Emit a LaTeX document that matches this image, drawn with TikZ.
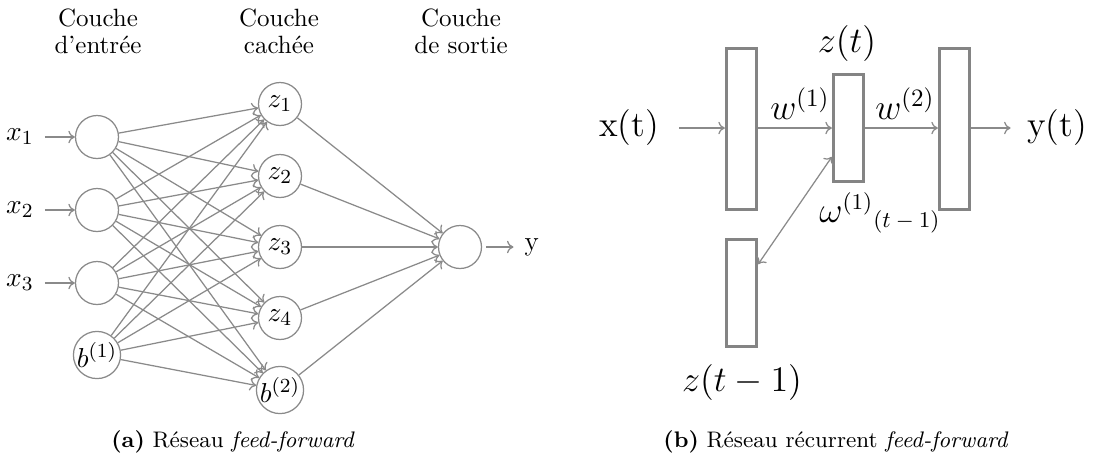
\documentclass[tikz,border=0pt]{standalone}
\usetikzlibrary{arrows.meta}
\definecolor{linegray}{HTML}{8A8A8A}
\definecolor{boxgray}{HTML}{848484}
\begin{document}
\begin{tikzpicture}[x=0.4pt,y=-0.4pt,
  neuron/.style={circle, draw=linegray, line width=0.5pt, minimum size=17.2pt, inner sep=0pt, font=\fontsize{11}{13}\selectfont},
  conn/.style={draw=linegray, line width=0.5pt, -{To[length=2.6pt,width=5pt]}},
  twoway/.style={draw=linegray, line width=0.5pt, {To[length=2.6pt,width=5pt]}-{To[length=2.6pt,width=5pt]}},
  layerbig/.style={draw=boxgray, line width=1.3pt, inner sep=0pt, minimum width=12pt, minimum height=64.4pt},
  layersmall/.style={draw=boxgray, line width=1.3pt, inner sep=0pt, minimum width=12pt, minimum height=42.8pt},
  plain/.style={inner sep=0pt},
  inlabel/.style={inner sep=0pt, font=\fontsize{11}{13}\selectfont},
  title/.style={inner sep=0pt, anchor=base},
  caption/.style={inner sep=0pt, font=\small}]
\useasboundingbox (0,0) rectangle (1119,463);

% ---------- (a) feed-forward ----------
\node[title] (t1a) at (98,26) {Couche};
\node[title] (t1b) at (98,53) {d'entrée};
\node[title] (t2a) at (279,26) {Couche};
\node[title] (t2b) at (279,53) {cachée};
\node[title] (t3a) at (461,26) {Couche};
\node[title] (t3b) at (461,53) {de sortie};

\node[neuron] (i1) at (97,137) {};
\node[neuron] (i2) at (97,210) {};
\node[neuron] (i3) at (97,283) {};
\node[neuron] (ib) at (97,355) {$b^{(1)}$};

\node[neuron] (h1) at (280,104) {$z_1$};
\node[neuron] (h2) at (280,176) {$z_2$};
\node[neuron] (h3) at (280,247) {$z_3$};
\node[neuron] (h4) at (280,318) {$z_4$};
\node[neuron] (hb) at (280,390) {$b^{(2)}$};

\node[neuron] (o) at (460,247) {};

\node[inlabel] (x1) at (20,137) {$x_1$};
\node[inlabel] (x2) at (20,210) {$x_2$};
\node[inlabel] (x3) at (20,283) {$x_3$};
\node[inlabel,anchor=west] (y) at (524,247) {y};

\draw[conn, shorten <=4.2pt] (x1) -- (i1);
\draw[conn, shorten <=4.2pt] (x2) -- (i2);
\draw[conn, shorten <=4.2pt] (x3) -- (i3);

\foreach \s in {i1,i2,i3,ib}
  \foreach \t in {h1,h2,h3,h4,hb}
    \draw[conn] (\s) -- (\t);

\foreach \s in {h1,h2,h3,h4,hb}
  \draw[conn] (\s) -- (o);

\draw[conn, shorten <=1.6pt, shorten >=4.2pt] (o) -- (y);

\node[caption] (capa) at (233,442) {\textbf{(a)} Réseau \textit{feed-forward}};

% ---------- (b) recurrent ----------
\node[layerbig] (r1) at (741.5,129) {};
\node[layersmall] (r2) at (848.5,128) {};
\node[layerbig] (r3) at (954.5,129) {};
\node[layersmall] (r4) at (741.5,293) {};

\node[plain, font=\Large] (xt) at (629,128) {x(t)};
\node[plain, font=\Large] (yt) at (1057,128) {y(t)};
\node[plain, font=\Large] (zt) at (847,43) {$z(t)$};
\node[plain, font=\Large] (ztm) at (742,382) {$z(t-1)$};
\node[plain, font=\Large] (w1) at (800,104) {$w^{(1)}$};
\node[plain, font=\Large] (w2) at (905,104) {$w^{(2)}$};
\node[plain, font=\fontsize{13.5}{16}\selectfont] (om) at (880,213) {$\omega^{(1)}{}_{(t\:-\:1)}$};

\draw[conn, shorten <=8pt] (xt.east) -- (r1.west |- xt.east);
\draw[conn] (r1.east |- r2.west) -- (r2.west);
\draw[conn] (r2.east) -- (r3.west |- r2.east);
\draw[conn, shorten >=6.4pt] (r3.east |- r2.east) -- (yt.west);
\draw[twoway] (r2.240) -- (r4.60);

\node[caption] (capb) at (836,442) {\textbf{(b)} Réseau récurrent \textit{feed-forward}};
\end{tikzpicture}
\end{document}
